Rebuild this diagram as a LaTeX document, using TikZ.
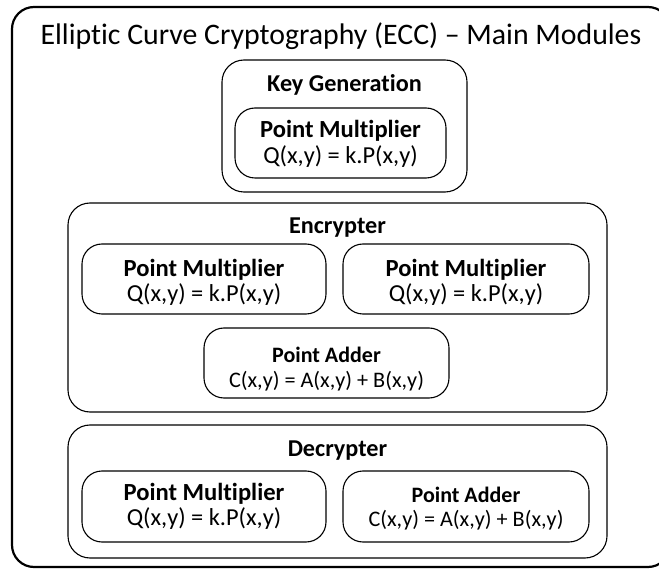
\documentclass[tikz,border=0pt]{standalone}
\usepackage{fontspec}
\setmainfont{Carlito}[Ligatures={NoCommon,NoContextual}]
\tikzset{
  outerbox/.style={draw, line width=2.2pt, rounded corners=22pt},
  groupbox/.style={draw, line width=1.1pt, rounded corners=22pt},
  modbox/.style={draw, line width=1.1pt, rounded corners=20pt},
  ttl/.style={font=\fontsize{29.8}{32}\selectfont, inner sep=0pt},
  hdr/.style={font=\fontsize{24.2}{28}\selectfont\bfseries, inner sep=0pt},
  mtitle/.style={font=\fontsize{24.6}{28}\selectfont\bfseries, inner sep=0pt},
  mfrm/.style={font=\fontsize{24.4}{28}\selectfont, inner sep=0pt},
  atitle/.style={font=\fontsize{22}{24}\selectfont\bfseries, inner sep=0pt},
  afrm/.style={font=\fontsize{22.2}{26}\selectfont, inner sep=0pt},
}
\begin{document}
\begin{tikzpicture}[x=1pt,y=-1pt]
\useasboundingbox (0,0) rectangle (659,569);
\clip (0,0) rectangle (659,569);
\fill[white] (0,0) rectangle (659,569);
% outer
\draw[outerbox] (12,7) rectangle (670,567);
\node[ttl] (title) at (341,36) {Elliptic Curve Cryptography (ECC) – Main Modules};
% key generation
\draw[groupbox] (222,60) rectangle (467,192);
\node[hdr] (kg) at (344.5,85) {Key Generation};
\draw[modbox] (235,108) rectangle (446,178);
\node[mtitle] (kgpm) at (340.5,131) {Point Multiplier};
\node[mfrm] (kgpmf) at (340.5,157) {Q(x,y) = k.P(x,y)};
% encrypter
\draw[groupbox] (68,203) rectangle (607,412);
\node[hdr] (enc) at (337.5,228) {Encrypter};
\draw[modbox] (82,244) rectangle (326,314);
\node[mtitle] (epm1) at (204,270) {Point Multiplier};
\node[mfrm] (epm1f) at (204,295) {Q(x,y) = k.P(x,y)};
\draw[modbox] (343,244) rectangle (589,314);
\node[mtitle] (epm2) at (466,270) {Point Multiplier};
\node[mfrm] (epm2f) at (466,295) {Q(x,y) = k.P(x,y)};
\draw[modbox] (204,328) rectangle (449,398);
\node[atitle] (epa) at (326.5,355) {Point Adder};
\node[afrm] (epaf) at (326.5,381) {C(x,y) = A(x,y) + B(x,y)};
% decrypter
\draw[groupbox] (68,425) rectangle (607,558);
\node[hdr] (dec) at (337.5,451) {Decrypter};
\draw[modbox] (82,471) rectangle (326,542);
\node[mtitle] (dpm) at (204,494) {Point Multiplier};
\node[mfrm] (dpmf) at (204,519) {Q(x,y) = k.P(x,y)};
\draw[modbox] (343,471) rectangle (589,542);
\node[atitle] (dpa) at (466,495) {Point Adder};
\node[afrm] (dpaf) at (466,520) {C(x,y) = A(x,y) + B(x,y)};
\end{tikzpicture}
\end{document}
